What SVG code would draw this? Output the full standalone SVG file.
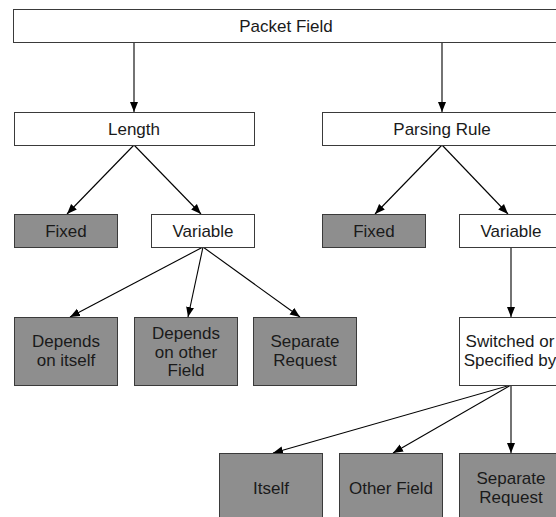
<svg xmlns="http://www.w3.org/2000/svg" width="556" height="517" viewBox="0 0 556 517">
<style>
.box{fill:#ffffff;stroke:#3a3a3a;stroke-width:1}
.dark{fill:#8e8e8e;stroke:#3a3a3a;stroke-width:1}
.t{font-family:"Liberation Sans",Arial,sans-serif;font-size:17px;fill:#1a1a1a;text-anchor:middle}
.c{stroke:#000;stroke-width:1.1;fill:none;marker-end:url(#ah)}
</style>
<defs>
<marker id="ah" markerUnits="userSpaceOnUse" markerWidth="10" markerHeight="10" viewBox="0 0 10 10" refX="10" refY="5" orient="auto">
<path d="M0,1 L10,5 L0,9 Z" fill="#000"/>
</marker>
</defs>
<rect width="556" height="517" fill="#ffffff"/>
<g id="connectors">
<line class="c" x1="134" y1="43" x2="134" y2="112"/>
<line class="c" x1="442" y1="43" x2="442" y2="112"/>
<line class="c" x1="134" y1="145" x2="67" y2="214"/>
<line class="c" x1="134" y1="145" x2="201" y2="214"/>
<line class="c" x1="442" y1="145" x2="375" y2="214"/>
<line class="c" x1="442" y1="145" x2="508" y2="214"/>
<line class="c" x1="203" y1="247" x2="70" y2="317"/>
<line class="c" x1="203" y1="247" x2="188" y2="317"/>
<line class="c" x1="203" y1="247" x2="300" y2="317"/>
<line class="c" x1="511" y1="247" x2="511" y2="317"/>
<line class="c" x1="511" y1="385" x2="273" y2="453"/>
<line class="c" x1="511" y1="385" x2="393" y2="453"/>
<line class="c" x1="511" y1="385" x2="511" y2="453"/>
</g>
<g id="packet-field"><rect class="box" x="13.5" y="9.5" width="546" height="33"/><text class="t" x="286" y="32">Packet Field</text></g>
<g id="length"><rect class="box" x="14.5" y="112.5" width="240" height="33"/><text class="t" x="134" y="134.5">Length</text></g>
<g id="parsing-rule"><rect class="box" x="322.5" y="112.5" width="240" height="33"/><text class="t" x="442" y="134.5">Parsing Rule</text></g>
<g id="fixed-l"><rect class="dark" x="14.5" y="214.5" width="103" height="33"/><text class="t" x="66" y="237">Fixed</text></g>
<g id="variable-l"><rect class="box" x="151.5" y="214.5" width="103" height="33"/><text class="t" x="203" y="237">Variable</text></g>
<g id="fixed-r"><rect class="dark" x="322.5" y="214.5" width="103" height="33"/><text class="t" x="374" y="237">Fixed</text></g>
<g id="variable-r"><rect class="box" x="459.5" y="214.5" width="103" height="33"/><text class="t" x="511" y="237">Variable</text></g>
<g id="depends-itself"><rect class="dark" x="14.5" y="317.5" width="103" height="68"/><text class="t" x="66" y="347">Depends</text><text class="t" x="66" y="366">on itself</text></g>
<g id="depends-other"><rect class="dark" x="134.5" y="317.5" width="103" height="68"/><text class="t" x="186" y="339">Depends</text><text class="t" x="186" y="357.5">on other</text><text class="t" x="186" y="376">Field</text></g>
<g id="separate-request-l"><rect class="dark" x="253.5" y="317.5" width="103" height="68"/><text class="t" x="305" y="347">Separate</text><text class="t" x="305" y="366">Request</text></g>
<g id="switched"><rect class="box" x="459.5" y="317.5" width="103" height="68"/><text class="t" x="510" y="347">Switched or</text><text class="t" x="510" y="366">Specified by</text></g>
<g id="itself"><rect class="dark" x="219.5" y="453.5" width="103" height="68"/><text class="t" x="271" y="494">Itself</text></g>
<g id="other-field"><rect class="dark" x="339.5" y="453.5" width="103" height="68"/><text class="t" x="391" y="494">Other Field</text></g>
<g id="separate-request-r"><rect class="dark" x="459.5" y="453.5" width="103" height="68"/><text class="t" x="511" y="484">Separate</text><text class="t" x="511" y="503">Request</text></g>
</svg>
